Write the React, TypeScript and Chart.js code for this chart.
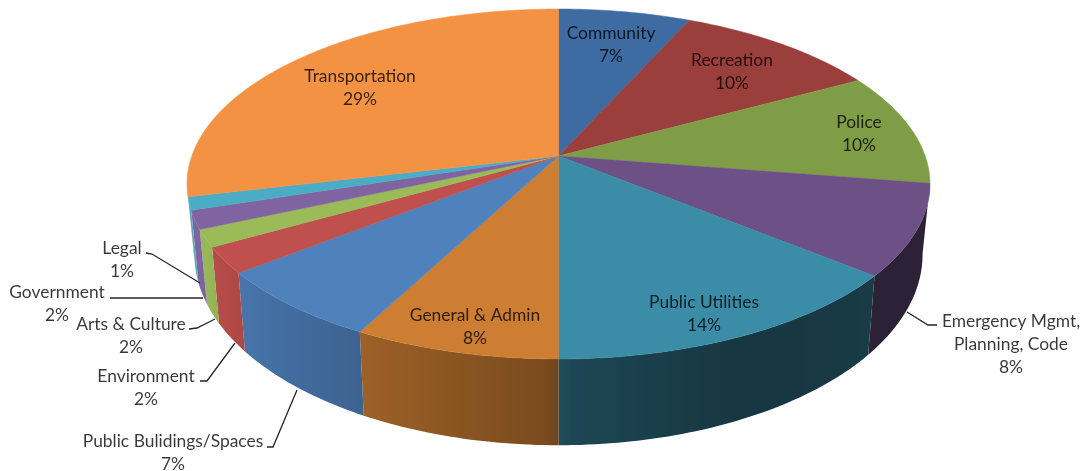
import React, { useEffect, useRef } from "react";
import { Chart, registerables } from "chart.js";

Chart.register(...registerables);

// Budget shares by category, clockwise from twelve o'clock.
const categories = [
  "Community",
  "Recreation",
  "Police",
  "Emergency Mgmt,|Planning, Code",
  "Public Utilities",
  "General & Admin",
  "Public Bulidings/Spaces",
  "Environment",
  "Arts & Culture",
  "Government",
  "Legal",
  "Transportation",
];
const shares = [6.7, 10.4, 10.4, 8.4, 14.1, 7.7, 6.7, 2.4, 1.6, 1.7, 1.2, 28.7];
const sliceColors = [
  "#3D6BA2", "#9B3F3D", "#7F9D46", "#6C5086", "#3A8CA7", "#CD7E33",
  "#4F81BD", "#C0504D", "#9BBB59", "#8064A2", "#4BACC6", "#F49244",
];

// Where each label's first line is centred, and its optional leader line.
const labelAnchors: [number, number][] = [
  [611, 33.5], [732, 60.5], [859, 122.5], [1011, 321.5], [704, 302.5], [475, 315.5],
  [173, 441.5], [146, 376.5], [131, 324.5], [57, 292.5], [122, 248.5], [360, 76.5],
];
const leaderPaths: ([number, number][] | null)[] = [
  null, null, null,
  [[937, 325], [928, 325], [907, 312]],
  null, null,
  [[267, 447], [273, 447], [297, 390]],
  [[200, 381], [207, 381], [235, 343]],
  [[189, 329], [197, 328], [215, 319]],
  [[110, 298], [203, 298]],
  [[146, 253], [152, 254], [200, 283]],
  null,
];

// Tilted-disc projection of the pie.
const CX = 558.5;
const CY = 156;
const RX = 366.7;
const RY = 170.5;
const PERSPECTIVE = 0.16;
const WALL_DROP = 68;
const WALL_SCALE_X = 0.98;
const WALL_SCALE_Y = 1.09;
const LINE_HEIGHT = 23;
const FONT = '17.4px Lato, "Open Sans", sans-serif';
const INK = "rgba(0,0,0,0.78)";

// Brightness of the side wall by angle (degrees clockwise from the top).
const wallShade: [number, number][] = [
  [90, 0.4], [130, 0.42], [155, 0.39], [178, 0.5], [182, 0.6],
  [207, 0.76], [232, 0.9], [250, 1], [270, 1],
];

const rimOffset = (theta: number): [number, number] => {
  const s = Math.sin(theta);
  const c = Math.cos(theta);
  const d = 1 + PERSPECTIVE * c;
  return [(RX * s) / d, (-RY * c) / d];
};
const topPoint = (theta: number): [number, number] => {
  const [dx, dy] = rimOffset(theta);
  return [CX + dx, CY + dy];
};
const wallPoint = (theta: number): [number, number] => {
  const [dx, dy] = rimOffset(theta);
  return [CX + dx * WALL_SCALE_X, CY + WALL_DROP + dy * WALL_SCALE_Y];
};

const shadeAt = (deg: number): number => {
  for (let i = 1; i < wallShade.length; i++) {
    const [a, va] = wallShade[i - 1];
    const [b, vb] = wallShade[i];
    if (deg <= b) return va + ((vb - va) * (deg - a)) / (b - a);
  }
  return 1;
};

const tint = (hex: string, f: number): string => {
  const n = parseInt(hex.slice(1), 16);
  const r = Math.round(((n >> 16) & 255) * f);
  const g = Math.round(((n >> 8) & 255) * f);
  const b = Math.round((n & 255) * f);
  return `rgb(${r},${g},${b})`;
};

const WALL_FIRST = (99 * Math.PI) / 180;
const WALL_LAST = (260 * Math.PI) / 180;

const tiltedPie = {
  id: "tiltedPie",
  beforeDatasetDraw(chart: any) {
    const { ctx } = chart;
    const arcs = chart.getDatasetMeta(0).data as any[];
    const span = (a: any): [number, number] => [
      a.startAngle + Math.PI / 2,
      a.endAngle + Math.PI / 2,
    ];

    // Side wall, painted first so the top face overlaps it.
    arcs.forEach((arc, i) => {
      const [a0, a1] = span(arc);
      const from = Math.max(a0, WALL_FIRST);
      const to = Math.min(a1, WALL_LAST);
      if (to <= from) return;
      const steps = Math.max(4, Math.ceil(((to - from) * 180) / Math.PI));
      const angles = Array.from({ length: steps + 1 }, (_, k) => from + ((to - from) * k) / steps);
      const x0 = wallPoint(from)[0];
      const x1 = wallPoint(to)[0];
      const grad = ctx.createLinearGradient(x0, 0, x1, 0);
      angles.forEach((t) => {
        const pos = Math.min(1, Math.max(0, (wallPoint(t)[0] - x0) / (x1 - x0 || 1)));
        grad.addColorStop(pos, tint(sliceColors[i], shadeAt((t * 180) / Math.PI)));
      });
      ctx.beginPath();
      angles.forEach((t, k) => {
        const p = topPoint(t);
        if (k === 0) ctx.moveTo(p[0], p[1]);
        else ctx.lineTo(p[0], p[1]);
      });
      [...angles].reverse().forEach((t) => {
        const p = wallPoint(t);
        ctx.lineTo(p[0], p[1]);
      });
      ctx.closePath();
      ctx.fillStyle = grad;
      ctx.fill();
    });

    // Top face.
    arcs.forEach((arc, i) => {
      const [a0, a1] = span(arc);
      const steps = Math.max(6, Math.ceil(((a1 - a0) * 180) / Math.PI));
      ctx.beginPath();
      ctx.moveTo(CX, CY);
      for (let k = 0; k <= steps; k++) {
        const p = topPoint(a0 + ((a1 - a0) * k) / steps);
        ctx.lineTo(p[0], p[1]);
      }
      ctx.closePath();
      ctx.fillStyle = sliceColors[i];
      ctx.strokeStyle = sliceColors[i];
      ctx.lineWidth = 0.5;
      ctx.fill();
      ctx.stroke();
    });
    return false;
  },
  afterDatasetsDraw(chart: any) {
    const { ctx } = chart;
    const values = chart.data.datasets[0].data as number[];

    ctx.strokeStyle = "#262626";
    ctx.lineWidth = 1.3;
    leaderPaths.forEach((path) => {
      if (!path) return;
      ctx.beginPath();
      path.forEach(([x, y], k) => (k === 0 ? ctx.moveTo(x, y) : ctx.lineTo(x, y)));
      ctx.stroke();
    });

    ctx.font = FONT;
    ctx.fillStyle = INK;
    ctx.textAlign = "center";
    ctx.textBaseline = "middle";
    (chart.data.labels as string[]).forEach((label, i) => {
      const lines = [...label.split("|"), `${Math.round(values[i])}%`];
      const [x, y] = labelAnchors[i];
      lines.forEach((line, k) => ctx.fillText(line, x, y + k * LINE_HEIGHT));
    });
  },
};

export default function App() {
  const canvasRef = useRef<HTMLCanvasElement | null>(null);

  useEffect(() => {
    document.body.style.margin = "0";
    const chart = new Chart(canvasRef.current as HTMLCanvasElement, {
      type: "pie",
      data: {
        labels: categories,
        datasets: [{ data: shares, backgroundColor: sliceColors, borderWidth: 0 }],
      },
      options: {
        responsive: false,
        animation: false,
        plugins: { legend: { display: false }, tooltip: { enabled: false } },
      },
      plugins: [tiltedPie],
    });
    return () => chart.destroy();
  }, []);

  return (
    <div style={{ width: 1083, height: 471, background: "#fff" }}>
      <canvas ref={canvasRef} width={1083} height={471} style={{ display: "block" }} />
    </div>
  );
}
